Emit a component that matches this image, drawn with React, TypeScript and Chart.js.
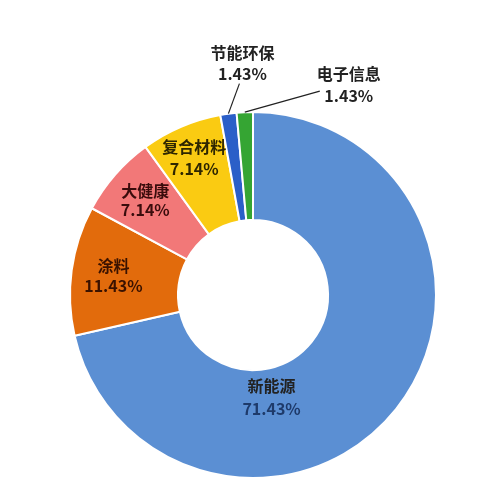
import React, { useEffect, useRef } from "react";
import { Chart, registerables } from "chart.js";

Chart.register(...registerables);

const categories = ["新能源", "涂料", "大健康", "复合材料", "节能环保", "电子信息"];
const shares = [71.43, 11.43, 7.14, 7.14, 1.43, 1.43];
const sliceColors = ["#5B8FD3", "#E26B0C", "#F27878", "#FACB12", "#2B5FC8", "#35A533"];
const nameColors = ["#222222", "#3A1200", "#3A0C0C", "#2E2600", "#222222", "#222222"];
const valueColors = ["#1E3A6A", "#3A1200", "#3A0C0C", "#2E2600", "#222222", "#222222"];

const FONT = 'bold 16px "Noto Sans CJK SC", "Noto Sans", sans-serif';

// label placement rules (layout, not data)
const insidePlacement: Record<number, { af: number; rf: number; gap: number }> = {
  0: { af: 0.66, rf: 0.27, gap: 23 },
  1: { af: 0.5, rf: 0.61, gap: 20 },
  2: { af: 0.5, rf: 0.63, gap: 19 },
  3: { af: 0.5, rf: 0.69, gap: 22 },
};
const outsidePlacement: Record<number, { lx: number; ly: number; tx: number; ty: number; gap: number }> = {
  4: { lx: 11, ly: -30, tx: 14, ty: -50, gap: 21 },
  5: { lx: 75, ly: -21, tx: 104, ty: -27, gap: 22 },
};

const labelPlugin = {
  id: "sliceLabels",
  afterDatasetsDraw(chart: any) {
    const ctx = chart.ctx;
    const meta = chart.getDatasetMeta(0);
    ctx.save();
    ctx.font = FONT;
    ctx.textAlign = "center";
    ctx.textBaseline = "middle";
    meta.data.forEach((arc: any, i: number) => {
      const { x, y, startAngle, endAngle, innerRadius, outerRadius } = arc.getProps(
        ["x", "y", "startAngle", "endAngle", "innerRadius", "outerRadius"],
        true
      );
      const name = categories[i];
      const pct = shares[i].toFixed(2) + "%";
      if (insidePlacement[i]) {
        const p = insidePlacement[i];
        const a = startAngle + (endAngle - startAngle) * p.af;
        const r = innerRadius + (outerRadius - innerRadius) * p.rf;
        const cx = x + Math.cos(a) * r;
        const cy = y + Math.sin(a) * r;
        ctx.fillStyle = nameColors[i];
        ctx.fillText(name, cx, cy - p.gap / 2);
        ctx.fillStyle = valueColors[i];
        ctx.fillText(pct, cx, cy + p.gap / 2);
      } else if (outsidePlacement[i]) {
        const p = outsidePlacement[i];
        const a = (startAngle + endAngle) / 2;
        const ox = x + Math.cos(a) * outerRadius;
        const oy = y + Math.sin(a) * outerRadius;
        ctx.strokeStyle = "#222222";
        ctx.lineWidth = 1.2;
        ctx.beginPath();
        ctx.moveTo(ox, oy);
        ctx.lineTo(ox + p.lx, oy + p.ly);
        ctx.stroke();
        ctx.fillStyle = nameColors[i];
        ctx.fillText(name, ox + p.tx, oy + p.ty - p.gap / 2);
        ctx.fillStyle = valueColors[i];
        ctx.fillText(pct, ox + p.tx, oy + p.ty + p.gap / 2);
      }
    });
    ctx.restore();
  },
};

export default function App() {
  const ref = useRef<HTMLCanvasElement | null>(null);
  useEffect(() => {
    document.body.style.margin = "0";
    const chart = new Chart(ref.current as HTMLCanvasElement, {
      type: "doughnut",
      data: {
        labels: categories,
        datasets: [
          {
            data: shares,
            backgroundColor: sliceColors,
            borderColor: "#ffffff",
            borderWidth: 2,
          },
        ],
      },
      options: {
        responsive: false,
        animation: false,
        cutout: "41%",
        layout: { padding: { top: 111, bottom: 13, left: 69, right: 60 } },
        plugins: {
          legend: { display: false },
          tooltip: { enabled: false },
        },
      },
      plugins: [labelPlugin],
    });
    return () => chart.destroy();
  }, []);
  return (
    <div style={{ position: "absolute", left: 0, top: 0, width: 497, height: 492, background: "#fff" }}>
      <canvas ref={ref} width={497} height={492} />
    </div>
  );
}
